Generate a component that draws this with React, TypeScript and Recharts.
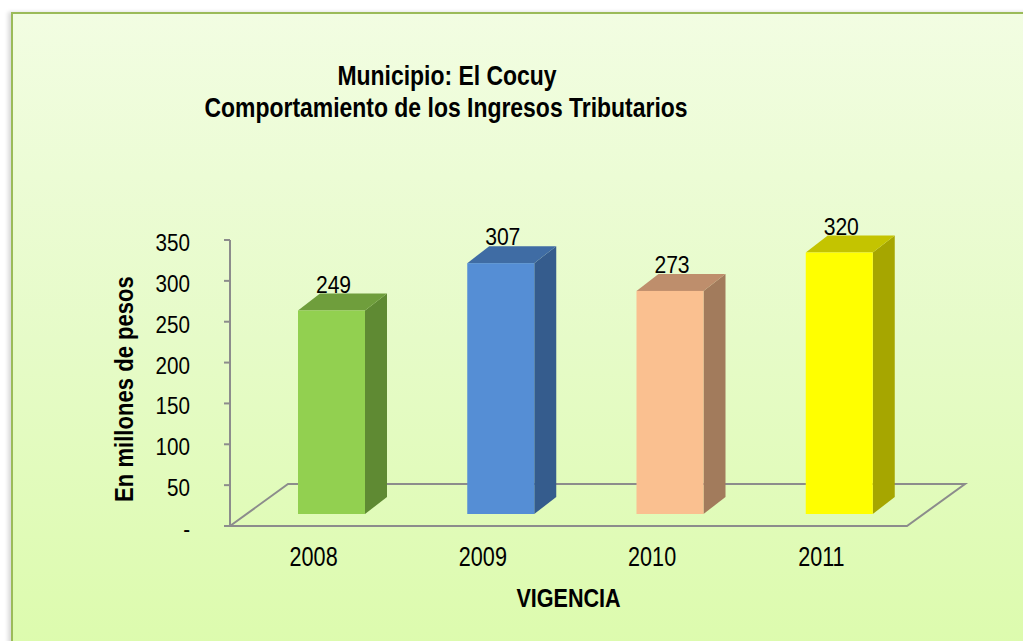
import React from "react";
import { BarChart, Bar, XAxis, YAxis, LabelList, ReferenceArea, Cell } from "recharts";

const categories = ["2008", "2009", "2010", "2011"];
const ingresos = [249, 307, 273, 320];
const yTicks = [0, 50, 100, 150, 200, 250, 300, 350];

const frontColors = ["#92D050", "#558ED5", "#FAC090", "#FFFF00"];
const sideColors = ["#5F8A33", "#355C8D", "#A27B5C", "#A6A600"];
const topColors = ["#6F9E3C", "#3F6CA4", "#BE8E6C", "#C4C400"];

const data = categories.map((c, i) => ({ year: c, value: ingresos[i], idx: i }));

const FONT = "'Liberation Sans', Arial, sans-serif";

const DX = 17; // bar shift into depth
const DY = 12;
const SX = 22; // bar depth
const SY = 17;

const NarrowText = ({ x, y, k, size, bold, anchor, rotate, children }: any) => (
  <text
    transform={`translate(${x},${y})${rotate ? ` rotate(${rotate})` : ""} scale(${k},1)`}
    x={0}
    y={0}
    textAnchor={anchor || "middle"}
    fontFamily={FONT}
    fontSize={size}
    fontWeight={bold ? "bold" : "normal"}
    fill="#000"
  >
    {children}
  </text>
);

const Bar3D = (props: any) => {
  const { x, y, width, height, index } = props;
  const fx = x + DX;
  const fy = y - DY;
  const by = y + height - DY;
  return (
    <g>
      <polygon
        points={`${fx + width},${fy} ${fx + width + SX},${fy - SY} ${fx + width + SX},${by - SY} ${fx + width},${by}`}
        fill={sideColors[index]}
      />
      <polygon
        points={`${fx},${fy} ${fx + SX},${fy - SY} ${fx + width + SX},${fy - SY} ${fx + width},${fy}`}
        fill={topColors[index]}
      />
      <rect x={fx} y={fy} width={width} height={by - fy} fill={frontColors[index]} />
    </g>
  );
};

const Floor = (props: any) => {
  const { x, y, width, height } = props;
  const bottom = y + height;
  const dx = 58;
  const dy = 42;
  return (
    <polygon
      points={`${x},${bottom} ${x + dx},${bottom - dy} ${x + width + dx},${bottom - dy} ${x + width},${bottom}`}
      fill="none"
      stroke="#8C8C8C"
      strokeWidth={2}
    />
  );
};

const ValueLabel = (props: any) => {
  const { x, y, width, value } = props;
  return (
    <NarrowText x={x + DX + width / 2 + 2} y={y - DY - SY - 1} k={0.88} size={24}>
      {value}
    </NarrowText>
  );
};

const XTick = (props: any) => {
  const { x, y, payload } = props;
  return (
    <NarrowText x={x - 1} y={y + 34} k={0.8} size={27}>
      {payload.value}
    </NarrowText>
  );
};

const YTick = (props: any) => {
  const { x, y, payload } = props;
  return (
    <NarrowText x={x} y={y + 11} k={0.86} size={24} anchor="end">
      {payload.value === 0 ? "-" : String(payload.value)}
    </NarrowText>
  );
};

export default function App() {
  return (
    <div
      style={{
        position: "fixed",
        left: 0,
        top: 0,
        width: 1023,
        height: 641,
        background: "#ffffff",
        overflow: "hidden",
      }}
    >
      <div
        style={{
          position: "absolute",
          left: 11,
          top: 12,
          width: 1030,
          height: 650,
          border: "2px solid #9BBB59",
          background: "linear-gradient(to bottom, #F2FDE2 0%, #E6FBC8 50%, #DCFBAC 100%)",
          boxShadow: "-3px 0 4px rgba(0,0,0,0.15)",
        }}
      />
      <div style={{ position: "absolute", left: 0, top: 0 }}>
        <BarChart
          width={1023}
          height={641}
          data={data}
          margin={{ top: 240, right: 116, bottom: 55, left: 170 }}
          barSize={67}
        >
          <NarrowText x={447} y={85} k={0.85} size={27} bold>
            Municipio: El Cocuy
          </NarrowText>
          <NarrowText x={446} y={117} k={0.85} size={27} bold>
            Comportamiento de los Ingresos Tributarios
          </NarrowText>
          <ReferenceArea y1={0} y2={350} shape={<Floor />} ifOverflow="visible" />
          <XAxis
            dataKey="year"
            axisLine={false}
            tickLine={false}
            height={60}
            tickMargin={0}
            tick={<XTick />}
            label={{
              content: (p: any) => {
                const vb = p.viewBox || {};
                return (
                  <NarrowText x={vb.x + vb.width / 2} y={607} k={0.83} size={26} bold>
                    VIGENCIA
                  </NarrowText>
                );
              },
            }}
          />
          <YAxis
            width={60}
            domain={[0, 350]}
            ticks={yTicks}
            interval={0}
            axisLine={{ stroke: "#8C8C8C", strokeWidth: 2 }}
            tickLine={{ stroke: "#8C8C8C", strokeWidth: 2 }}
            tickMargin={34}
            tick={<YTick />}
            label={{
              content: (p: any) => {
                const vb = p.viewBox || {};
                return (
                  <NarrowText x={133} y={vb.y + vb.height / 2 + 6} k={0.85} size={26} bold rotate={-90}>
                    En millones de pesos
                  </NarrowText>
                );
              },
            }}
          />
          <Bar dataKey="value" isAnimationActive={false} shape={<Bar3D />}>
            {data.map((d, i) => (
              <Cell key={d.year} fill={frontColors[i]} />
            ))}
            <LabelList dataKey="value" content={<ValueLabel />} />
          </Bar>
        </BarChart>
      </div>
    </div>
  );
}
